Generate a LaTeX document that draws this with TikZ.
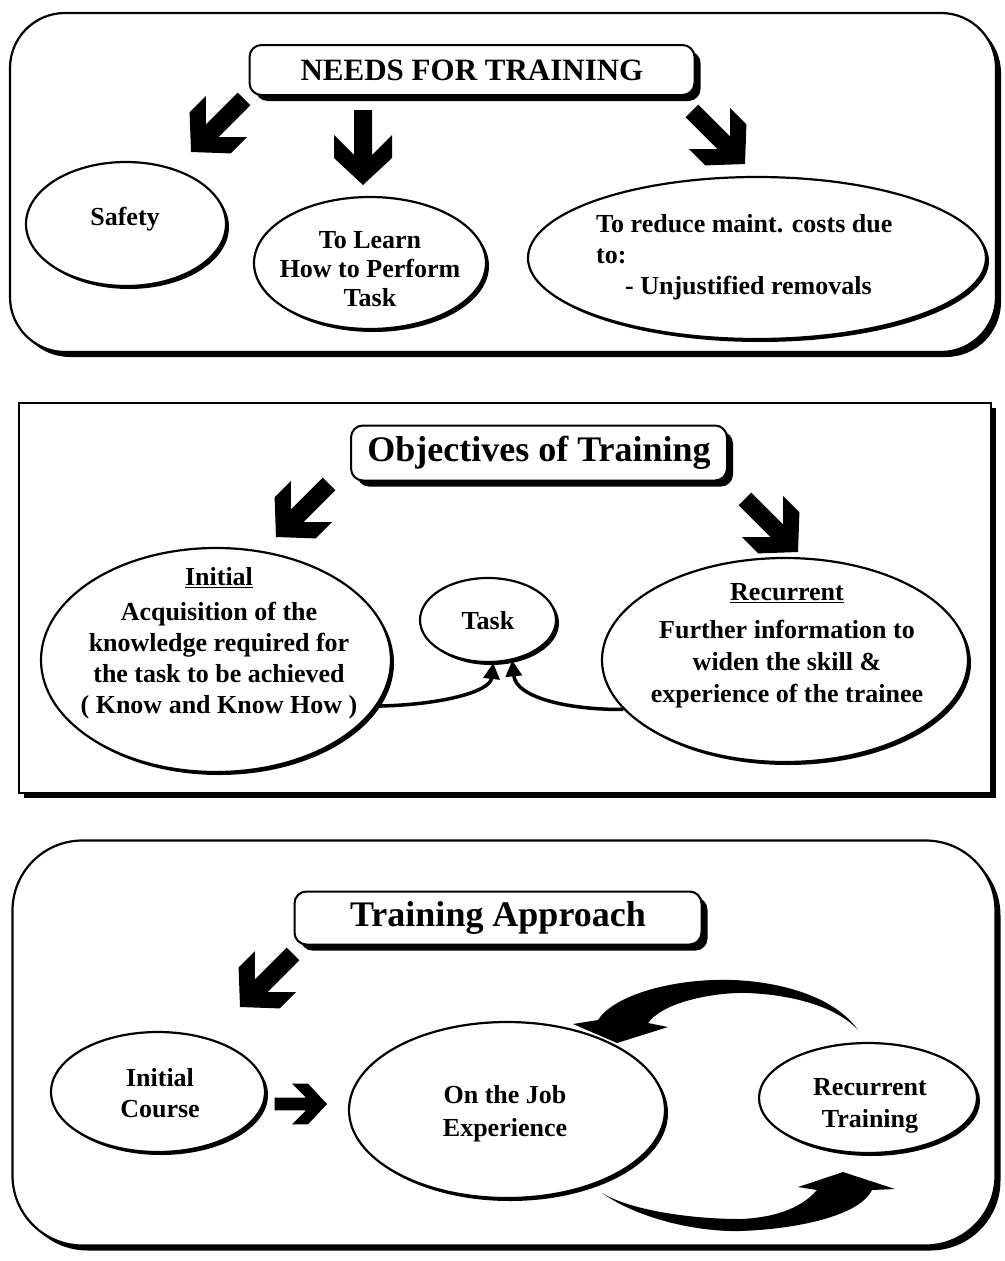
\documentclass[tikz,border=0pt]{standalone}
\usepackage{fontspec}
\setmainfont{Liberation Serif}
\usetikzlibrary{shapes.geometric,shadows,arrows.meta}
\begin{document}
\begin{tikzpicture}[x=1pt,y=-1pt,
 shad/.style={drop shadow={shadow xshift=#1,shadow yshift=-#1,fill=black,opacity=1}},
 secbox/.style={draw,line width=2.2pt,fill=white,inner sep=0pt,shad=5pt},
 titlebox/.style={draw,line width=2pt,rounded corners=12pt,fill=white,inner sep=0pt,shad=6pt},
 bubble/.style={ellipse,draw,line width=2.2pt,fill=white,inner sep=0pt,shad=3pt},
 body/.style={font=\bfseries\fontsize{26pt}{31pt}\selectfont,align=center,inner sep=0pt},
 conn/.style={line width=3.5pt,-{Triangle[length=16pt,width=16pt]}},
 blockarrow/.pic={\fill (0,0) -- (-27,29) -- (-50,29) -- (-30,9) -- (-75,9) -- (-75,-9) -- (-30,-9) -- (-50,-29) -- (-27,-29) -- cycle;}
]
\useasboundingbox (0,0) rectangle (1004,1261);
% ---------- section 1
\node[secbox,rounded corners=55pt,minimum width=986pt,minimum height=339pt] (box1) at (503,182.5) {};
\node[titlebox,minimum width=445pt,minimum height=50pt,font=\bfseries\fontsize{31pt}{36pt}\selectfont] (t1) at (472,70) {NEEDS FOR TRAINING};
\pic[rotate=-135] at (191,152) {blockarrow};
\pic[rotate=-90] at (363,185) {blockarrow};
\pic[rotate=-45] at (745,164) {blockarrow};
\node[bubble,minimum width=200pt,minimum height=124pt] (safety) at (126,224) {};
\node[body] (safetyt) at (125,219) {Safety};
\node[bubble,minimum width=232pt,minimum height=132pt] (learn) at (370,263) {};
\node[body,font=\bfseries\fontsize{26pt}{29pt}\selectfont] (learnt) at (370,269) {To Learn\\How to Perform\\Task};
\node[bubble,minimum width=458pt,minimum height=162pt] (reduce) at (757,258) {};
\node[body,align=left,anchor=west] (reducet) at (596,257) {To reduce maint. costs due\\to:\\\hspace*{29pt}- Unjustified removals};
% ---------- section 2
\node[secbox,minimum width=972pt,minimum height=390pt] (box2) at (505,598) {};
\node[titlebox,minimum width=376pt,minimum height=55pt,font=\bfseries\fontsize{36pt}{40pt}\selectfont] (t2) at (539,453) {Objectives of Training};
\pic[rotate=-135] at (276,537) {blockarrow};
\pic[rotate=-45] at (798,552) {blockarrow};
\node[bubble,minimum width=350pt,minimum height=224pt] (init) at (216,660) {};
\node[bubble,minimum width=136pt,minimum height=84pt] (task) at (488,620) {};
\node[bubble,minimum width=366pt,minimum height=204pt] (recur) at (785,660) {};
\node[body] (initt) at (219,643) {\underline{Initial}\\[4pt]Acquisition of the\\knowledge required for\\the task to be achieved\\( Know and Know How )};
\node[body] (taskt) at (488,621) {Task};
\node[body,font=\bfseries\fontsize{26pt}{32pt}\selectfont] (recurt) at (787,646) {\underline{Recurrent}\\[6pt]Further information to\\widen the skill \&\\experience of the trainee};
\draw[conn] (init.-16) .. controls (440,705) and (490,692) .. (task.-83);
\draw[conn] (recur.-163) .. controls (570,710) and (516,698) .. (task.-59);
% ---------- section 3
\node[secbox,rounded corners=70pt,minimum width=983pt,minimum height=405pt] (box3) at (504,1043) {};
\node[titlebox,minimum width=407pt,minimum height=53pt,font=\bfseries\fontsize{36pt}{40pt}\selectfont] (t3) at (498,918) {Training Approach};
\pic[rotate=-135] at (240,1007) {blockarrow};
\node[bubble,minimum width=214pt,minimum height=120pt] (ic) at (158,1092) {};
\node[body] (ict) at (160,1093) {Initial\\Course};
\node[bubble,minimum width=316pt,minimum height=176pt] (ojt) at (507,1110) {};
\node[body,font=\bfseries\fontsize{26pt}{33pt}\selectfont] (ojtt) at (505,1114) {On the Job\\Experience};
\node[bubble,minimum width=218pt,minimum height=110pt] (rt) at (868,1098) {};
\node[body,font=\bfseries\fontsize{26pt}{32pt}\selectfont] (rtt) at (870,1106) {Recurrent\\Training};
\pic[scale=0.7] at (327,1104) {blockarrow};
\fill (858,1030) .. controls (830,990) and (760,978) .. (713,980) .. controls (660,982) and (612,998) .. (598,1020) -- (573,1024) -- (617,1043) -- (668,1027) -- (648,1023) .. controls (665,1000) and (720,992) .. (747,993) .. controls (800,995) and (840,1010) .. (858,1030) -- cycle;
\fill (602,1193) .. controls (640,1220) and (700,1232) .. (740,1231) .. controls (800,1229) and (860,1215) .. (872,1190) -- (895,1189) -- (843,1172) -- (798,1187) -- (817,1190) .. controls (800,1210) and (770,1218) .. (740,1219) .. controls (690,1219) and (630,1210) .. (602,1193) -- cycle;
\end{tikzpicture}
\end{document}
